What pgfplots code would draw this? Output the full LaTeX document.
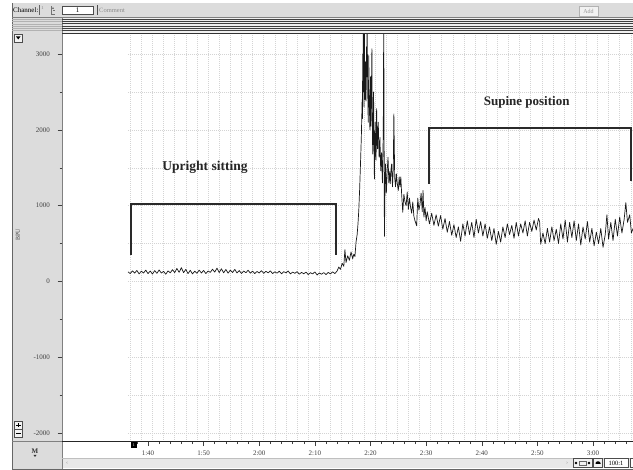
\documentclass[border=0pt]{standalone}
\usepackage{fontspec}
\setmainfont{Liberation Serif}
\usepackage{pgfplots}
\usepackage{pgfplotstable}
\pgfplotsset{compat=1.18}
\definecolor{panel}{HTML}{DCDCDC}
\definecolor{scroll}{HTML}{E8E8E8}
\definecolor{band}{HTML}{F0F0F0}
\definecolor{framec}{HTML}{808080}
\definecolor{gridc}{HTML}{D4D4D4}
\definecolor{brack}{HTML}{2A2A2A}

\pgfplotstableread{
t v
96.4 128
96.8 104
97.2 140
97.6 110
98.0 146
98.4 100
98.8 136
99.2 112
99.6 150
100.0 104
100.4 138
100.8 98
101.2 144
101.6 108
102.0 152
102.4 112
102.8 134
103.2 96
103.6 140
104.0 114
104.4 156
104.8 118
105.2 172
105.6 120
106.0 182
106.4 116
106.8 160
107.2 104
107.6 148
108.0 100
108.4 136
108.8 108
109.2 150
109.6 112
110.0 146
110.4 104
110.8 138
111.2 120
111.6 162
112.0 124
112.4 176
112.8 118
113.2 168
113.6 114
114.0 158
114.4 110
114.8 150
115.2 118
115.6 160
116.0 112
116.4 144
116.8 106
117.2 138
117.6 116
118.0 148
118.4 110
118.8 136
119.2 104
119.6 132
120.0 112
120.4 142
120.8 108
121.2 134
121.6 114
122.0 140
122.4 104
122.8 128
123.2 110
123.6 136
124.0 102
124.4 130
124.8 114
125.2 138
125.6 100
126.0 124
126.4 108
126.8 130
127.2 96
127.6 120
128.0 102
128.4 124
128.8 92
129.2 116
129.6 100
130.0 126
130.4 86
130.8 112
131.2 96
131.6 118
132.0 90
132.4 120
132.8 100
133.2 128
133.6 104
134.0 140
134.3 190
134.6 160
134.9 240
135.2 200
135.4 420
135.6 250
135.9 340
136.2 280
136.5 390
136.8 300
137.0 360
137.2 330
137.4 520
137.6 620
137.75 760
137.9 950
138.05 1220
138.2 1550
138.35 1900
138.5 2400
138.55 2150
138.6 3000
138.65 2700
138.7 3500
138.75 2500
138.8 2600
138.85 2300
138.9 3500
138.95 2750
139.0 2400
139.05 2600
139.1 2900
139.15 2500
139.2 2380
139.25 2800
139.3 3100
139.35 2700
139.4 3500
139.45 2900
139.5 2550
139.55 2250
139.6 2100
139.65 2600
139.7 2980
139.75 2300
139.8 2450
139.85 2100
139.9 2000
139.95 2400
140.0 2700
140.05 2050
140.1 2200
140.18 2600
140.25 3070
140.32 2100
140.4 1680
140.48 2000
140.55 2500
140.62 1900
140.7 1350
140.78 1800
140.85 2100
140.92 1700
141.0 1600
141.05 1950
141.1 2280
141.18 1900
141.25 1750
141.32 2000
141.4 2100
141.48 1800
141.55 1640
141.62 1800
141.7 1900
141.78 1600
141.85 1460
141.92 1650
142.0 1700
142.08 1450
142.15 1300
142.22 1600
142.3 2000
142.38 3500
142.45 1800
142.5 595
142.6 1200
142.7 1550
142.85 1170
143.0 1450
143.15 1640
143.3 1300
143.45 1450
143.55 1290
143.7 1480
143.8 1550
143.95 1250
144.1 1500
144.2 2210
144.35 1370
144.5 1250
144.65 1420
144.8 1300
145.0 1200
145.15 1380
145.3 1250
145.45 1380
145.6 1150
145.8 912
146.0 1150
146.2 1050
146.4 1000
146.6 1180
146.8 950
147.0 1100
147.2 980
147.4 900
147.6 1050
147.8 860
148.0 800
148.3 735
148.5 1100
148.7 940
148.9 1020
149.1 1165
149.3 920
149.45 1200
149.6 850
149.8 980
150.0 800
150.2 920
150.6 760
151.0 900
151.4 740
151.8 880
152.2 730
152.6 870
153.0 690
153.4 830
153.8 650
154.2 790
154.6 610
155.0 750
155.4 580
155.8 720
156.2 530
156.6 760
157.0 600
157.4 800
157.8 620
158.2 780
158.6 580
159.0 820
159.4 640
159.8 790
160.2 600
160.6 760
161.0 570
161.4 720
161.8 540
162.2 700
162.6 490
163.0 660
163.4 520
163.8 720
164.2 580
164.6 760
165.0 620
165.4 740
165.8 570
166.2 780
166.6 600
167.0 760
167.4 640
167.8 800
168.2 600
168.6 780
169.0 660
169.4 810
169.8 680
170.2 830
170.4 790
170.6 490
171.0 640
171.4 500
171.8 700
172.2 520
172.6 720
173.0 540
173.4 690
173.8 500
174.2 760
174.6 560
175.0 810
175.4 520
175.8 780
176.2 580
176.6 800
177.0 540
177.4 760
177.8 480
178.2 720
178.6 560
179.0 790
179.4 520
179.8 700
180.2 470
180.6 650
181.0 500
181.4 700
181.8 450
182.2 620
182.5 880
182.8 560
183.2 780
183.6 540
184.0 820
184.4 600
184.8 850
185.2 640
185.6 820
185.9 1040
186.2 780
186.6 880
186.9 640
187.2 700
}\signal

\begin{document}
\begin{tikzpicture}
\path[use as bounding box] (0pt,0pt) rectangle (633pt,470pt);
\clip (0pt,0pt) rectangle (633pt,470pt);
\begin{scope}[x=1pt,y=1pt]
\fill[white] (0,0) rectangle (633,470);
\fill[panel] (12,453) rectangle (633,467);
\fill[panel] (12,1) rectangle (62,453);
\fill[band] (62,437) rectangle (633,453);
\fill[scroll] (62,2) rectangle (633,12);
\end{scope}

\begin{axis}[
  at={(62pt,28.3pt)}, anchor=south west, scale only axis,
  width=571pt, height=408.5pt,
  xmin=84.54, xmax=187.19, ymin=-2113, ymax=3275,
  axis background/.style={fill=white},
  axis line style={draw=none},
  tick pos=left, tick align=outside,
  major tick length=4.5pt, minor tick length=2.5pt,
  every tick/.style={black!75, line width=0.5pt},
  xtick={100,110,120,130,140,150,160,170,180},
  xticklabels={1:40,1:50,2:00,2:10,2:20,2:30,2:40,2:50,3:00},
  minor xtick={98,102,104,106,108,112,114,116,118,122,124,126,128,132,134,136,138,142,144,146,148,152,154,156,158,162,164,166,168,172,174,176,178,182,184,186},
  ytick={-2000,-1000,0,1000,2000,3000},
  yticklabels={-2000,-1000,0,1000,2000,3000},
  minor ytick={-1500,-500,500,1500,2500},
  xticklabel style={font=\fontsize{7}{8}\selectfont, text=black!75, yshift=-1pt},
  yticklabel style={font=\fontsize{7}{8}\selectfont, text=black!75, xshift=-4pt},
  clip=true,
]
\pgfplotsinvokeforeach{96.8,98.8,100.8,102.8,104.8,106.8,108.8,110.8,112.8,114.8,116.8,118.8,120.8,122.8,124.8,126.8,128.8,130.8,132.8,134.8,136.8,138.8,140.8,142.8,144.8,146.8,148.8,150.8,152.8,154.8,156.8,158.8,160.8,162.8,164.8,166.8,168.8,170.8,172.8,174.8,176.8,178.8,180.8,182.8,184.8,186.8}{
  \draw[gridc, line width=0.45pt, dash pattern=on 1pt off 1pt] (axis cs:#1,-2113) -- (axis cs:#1,3275);
}
\pgfplotsinvokeforeach{-2000,-1500,-1000,-500,0,500,1000,1500,2000,2500,3000}{
  \draw[gridc, line width=0.45pt, dash pattern=on 1pt off 1pt] (axis cs:96.4,#1) -- (axis cs:187.19,#1);
}
\addplot[black!90, line width=0.7pt, line join=round] table[x=t,y=v]{\signal};
\addplot[brack, line width=2.2pt] coordinates {(96.94,355) (96.94,1026) (133.8,1026) (133.8,355)};
\addplot[brack, line width=2.2pt] coordinates {(150.57,1291) (150.57,2020) (186.83,2020) (186.83,1331)};
\node[font=\fontsize{13.5}{15}\selectfont\bfseries, text=black!85] at (axis cs:110.25,1503) {Upright sitting};
\node[font=\fontsize{13}{15}\selectfont\bfseries, text=black!85] at (axis cs:168.08,2368) {Supine position};
\end{axis}

\begin{scope}[x=1pt,y=1pt]
% frame borders
\draw[black!60, line width=0.8pt] (12,1) -- (12,467);
\draw[black!60, line width=0.8pt] (12,1) -- (633,1);
\draw[framec, line width=0.6pt] (12,453) -- (633,453);
\draw[framec, line width=0.8pt] (62,1) -- (62,453);
% band lines
\foreach \yy/\ww in {450.5/1.0, 448.6/0.6, 446/1.0, 443.8/0.6, 441.6/1.0, 439.8/0.6}{
  \draw[black!75, line width=\ww pt] (62,\yy) -- (633,\yy);
  \draw[black!30, line width=0.5pt] (12,\yy) -- (62,\yy);
}
\draw[black!80, line width=0.9pt] (62,437) -- (633,437);
% ruler line
\draw[black!85, line width=0.9pt] (62,28.3) -- (633,28.3);
\draw[framec, line width=0.6pt] (12,28.3) -- (62,28.3);
\draw[black!25, line width=0.4pt] (62,12) -- (633,12);
% marker
\fill[black] (131,22) rectangle (136.5,28.3);
\node[font=\fontsize{4}{4}\selectfont, text=white, inner sep=0pt] at (133.75,25.1) {1};
% toolbar
\node[anchor=west, font=\fontsize{7}{8}\selectfont, inner sep=0pt] at (13,459.5) {Channel:};
\draw[black!60] (39,455) -- (39,465);
\node[font=\fontsize{4.5}{5}\selectfont, text=black!50, inner sep=0pt] at (42.5,462) {1};
\draw[black!55, line width=0.5pt] (51,456) -- (55,456) (51,456) -- (51,464) (53,460) -- (55,460);
\fill[black!55] (52,461) -- (54,461) -- (53,463) -- cycle;
\fill[white] (62,456) rectangle (93,463.5);
\draw[black!70, line width=0.5pt] (62,456) rectangle (93,463.5);
\node[font=\fontsize{7}{8}\selectfont, inner sep=0pt] at (77.5,459.6) {1};
\draw[black!70, line width=0.7pt] (97,455) -- (97,465);
\node[anchor=west, font=\fontsize{6.5}{7}\selectfont, text=black!45, inner sep=0pt] at (99,460) {Comment};
\draw[black!30, line width=0.5pt, fill=black!5] (579,454) rectangle (598,463.5);
\node[font=\fontsize{6}{7}\selectfont, text=black!40, inner sep=0pt] at (588.5,458.8) {Add};
% left panel buttons
\draw[black!70, line width=0.5pt, fill=black!5] (14,428) rectangle (22.5,436);
\fill[black] (16,433.5) -- (20.5,433.5) -- (18.25,430.5) -- cycle;
\draw[black!70, line width=0.5pt, fill=black!5] (14,41) rectangle (22.5,49);
\draw[black!70, line width=0.5pt, fill=black!5] (14,33) rectangle (22.5,41);
\draw[black, line width=0.8pt] (16,45) -- (20.5,45) (18.25,42.75) -- (18.25,47.25);
\draw[black, line width=0.8pt] (16,37) -- (20.5,37);
\node[rotate=90, font=\fontsize{6}{7}\selectfont, text=black!75, inner sep=0pt] at (18,235) {BPU};
\node[font=\fontsize{7}{8}\selectfont\bfseries, text=black!80, inner sep=0pt] at (35,18.5) {M};
\fill[black!80] (33.5,15) -- (36.5,15) -- (35,13) -- cycle;
% bottom scroll items
\node[font=\fontsize{6}{7}\selectfont, text=black!40, inner sep=0pt] at (67,7) {\char"2039};
\node[font=\fontsize{6}{7}\selectfont, text=black!40, inner sep=0pt] at (567,7) {\char"203A};
\draw[black!70, line width=0.5pt, fill=black!5] (573,2.5) rectangle (592,11.5);
\fill[black] (576,7) circle (1.3pt);
\fill[black] (589,7) circle (1.3pt);
\draw[black!60, line width=0.5pt] (579,5) rectangle (586,9);
\draw[black!70, line width=0.5pt, fill=black!5] (593.5,2.5) rectangle (602.5,11.5);
\fill[black] (595.5,6) -- (600.5,6) -- (600.5,7) -- (599,8.5) -- (597,8.5) -- (595.5,7) -- cycle;
\draw[black!70, line width=0.5pt, fill=white] (604,2.5) rectangle (628,11.5);
\node[font=\fontsize{6.5}{7}\selectfont, inner sep=0pt] at (616,7) {100:1};
\draw[black!70, line width=0.5pt, fill=white] (630,2.5) rectangle (640,11.5);
\end{scope}
\end{tikzpicture}
\end{document}
